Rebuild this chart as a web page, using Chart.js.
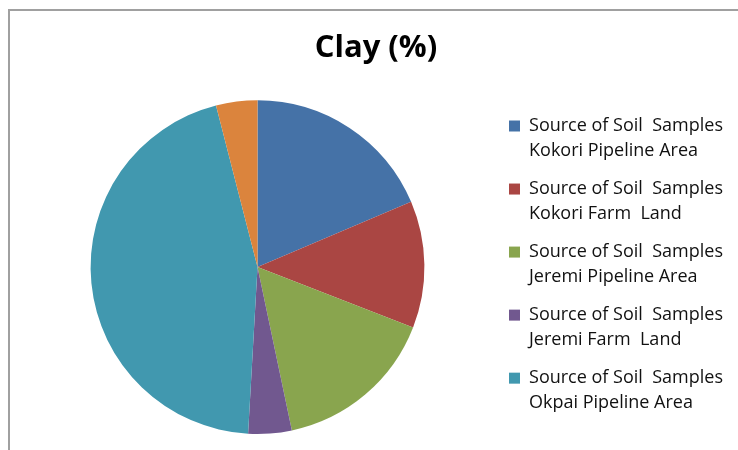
<!DOCTYPE html>
<html>
<head>
<meta charset="utf-8">
<script src="https://cdn.jsdelivr.net/npm/chart.js@4.4.0/dist/chart.umd.min.js"></script>
<style>
  html, body { margin: 0; padding: 0; background: #fff; }
  #frame {
    position: absolute; left: 8px; top: 9px; width: 760px; height: 460px;
    border-left: 2px solid #a0a0a0; border-top: 2px solid #a0a0a0;
  }
  #wrap { position: absolute; left: 0; top: 0; width: 738px; height: 450px; }
</style>
</head>
<body>
<div id="frame"></div>
<div id="wrap"><canvas id="chart" width="738" height="450"></canvas></div>
<script>
const sources = [
  ['Source of Soil  Samples', 'Kokori Pipeline Area'],
  ['Source of Soil  Samples', 'Kokori Farm  Land'],
  ['Source of Soil  Samples', 'Jeremi Pipeline Area'],
  ['Source of Soil  Samples', 'Jeremi Farm  Land'],
  ['Source of Soil  Samples', 'Okpai Pipeline Area'],
  ['Other']
];
const clayPercent = [18.6, 12.3, 15.8, 4.2, 45.1, 4.0];
const sliceColors = ['#4572A7', '#AA4643', '#89A54E', '#71588F', '#4198AF', '#DB843D'];

const ctx = document.getElementById('chart').getContext('2d');
new Chart(ctx, {
  type: 'pie',
  data: {
    labels: sources,
    datasets: [{
      data: clayPercent,
      backgroundColor: sliceColors,
      borderWidth: 0
    }]
  },
  options: {
    responsive: false,
    animation: false,
    layout: { padding: { left: 19, right: 5, top: 0, bottom: 16 } },
    plugins: {
      title: {
        display: true,
        text: 'Clay (%)',
        color: '#000',
        font: { family: 'Open Sans', size: 31, weight: 'bold' },
        padding: { top: 30, bottom: 33 }
      },
      legend: {
        position: 'right',
        align: 'start',
        // empty legend title, only there to push the items down
        title: { display: true, text: '', font: { size: 10, lineHeight: 1 }, padding: { top: 47, bottom: 47 } },
        labels: {
          color: '#111',
          font: { family: 'Open Sans', size: 18, lineHeight: 1.39 },
          boxWidth: 11,
          boxHeight: 11,
          padding: 13,
          filter: (item) => item.index < 5
        }
      },
      tooltip: { enabled: false }
    }
  }
});
</script>
</body>
</html>
